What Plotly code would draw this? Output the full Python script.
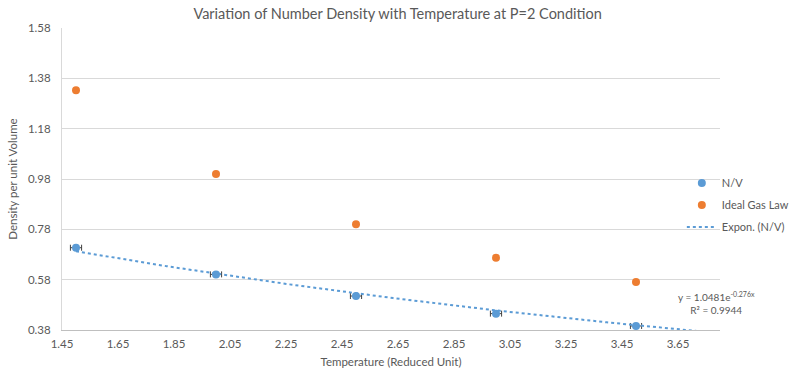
import numpy as np
import plotly.graph_objects as go

temperature = [1.5, 2.0, 2.5, 3.0, 3.5]
nv_density = [0.707, 0.601, 0.515, 0.445, 0.396]
nv_temp_err = [0.02, 0.02, 0.02, 0.02, 0.02]
ideal_gas = [1.333, 1.0, 0.80, 0.667, 0.571]
fit_a = 1.0481
fit_b = -0.276
fit_r2 = 0.9944

BLUE = "#5B9BD5"
ORANGE = "#ED7D31"
GREY = "#595959"
FONT = "Lato"

x_fit = np.linspace(min(temperature), 3.8, 200)
y_fit = fit_a * np.exp(fit_b * x_fit)

fig = go.Figure()
fig.add_trace(go.Scatter(
    x=temperature, y=nv_density, mode="markers", name="N/V",
    marker=dict(color=BLUE, size=8),
    error_x=dict(type="data", array=nv_temp_err, color="#404040", thickness=1, width=3),
    legend="legend", showlegend=True,
))
fig.add_trace(go.Scatter(
    x=temperature, y=ideal_gas, mode="markers", name="Ideal Gas Law",
    marker=dict(color=ORANGE, size=8),
    legend="legend2", showlegend=True,
))
fig.add_trace(go.Scatter(
    x=x_fit, y=y_fit, mode="lines", name="Expon. (N/V)",
    line=dict(color=BLUE, width=2, dash="dot"),
    legend="legend3", showlegend=True,
))

leg_common = dict(xref="paper", yref="paper", x=0.942, xanchor="left", yanchor="middle",
                  bgcolor="rgba(0,0,0,0)", font=dict(family=FONT, size=11, color=GREY))
fig.update_layout(
    width=800, height=379,
    margin=dict(l=62, r=80, t=28, b=49, autoexpand=False),
    paper_bgcolor="white", plot_bgcolor="white",
    showlegend=True,
    font=dict(family=FONT, color=GREY, size=11),
    title=dict(text="Variation of Number Density with Temperature at P=2 Condition",
               x=0.497, xanchor="center", y=1 - 14 / 379, yanchor="middle",
               font=dict(family=FONT, size=14.5, color=GREY)),
    legend=dict(y=0.487, **leg_common),
    legend2=dict(y=0.414, **leg_common),
    legend3=dict(y=0.341, **leg_common),
    xaxis=dict(
        range=[1.45, 3.8], tick0=1.45, dtick=0.2, tickformat=".2f",
        showgrid=False, zeroline=False, automargin=False,
        showline=True, linecolor="#BFBFBF", linewidth=1,
        ticks="", ticklabelstandoff=3,
        tickfont=dict(family=FONT, size=11.5, color=GREY),
        title=dict(text="Temperature (Reduced Unit)", standoff=9,
                   font=dict(family=FONT, size=11.5, color=GREY)),
    ),
    yaxis=dict(
        range=[0.38, 1.58], tick0=0.38, dtick=0.2, tickformat=".2f",
        showgrid=True, gridcolor="#D9D9D9", gridwidth=1, zeroline=False, automargin=False,
        showline=True, linecolor="#D9D9D9", linewidth=1,
        ticks="", ticklabelstandoff=8,
        tickfont=dict(family=FONT, size=11.5, color=GREY),
        title=dict(text="Density per unit Volume", standoff=7,
                   font=dict(family=FONT, size=11.5, color=GREY)),
    ),
    annotations=[dict(
        xref="paper", yref="paper", x=(716 - 62) / 658, y=(330 - 303) / 302,
        xanchor="center", yanchor="middle", showarrow=False, align="center",
        text=f"y = {fit_a}e<sup>{fit_b}x</sup><br>R² = {fit_r2}",
        font=dict(family=FONT, size=10, color=GREY),
    )],
)

fig.write_html("out.html", config={"displayModeBar": False},
               post_script="document.body.style.margin='0';")
